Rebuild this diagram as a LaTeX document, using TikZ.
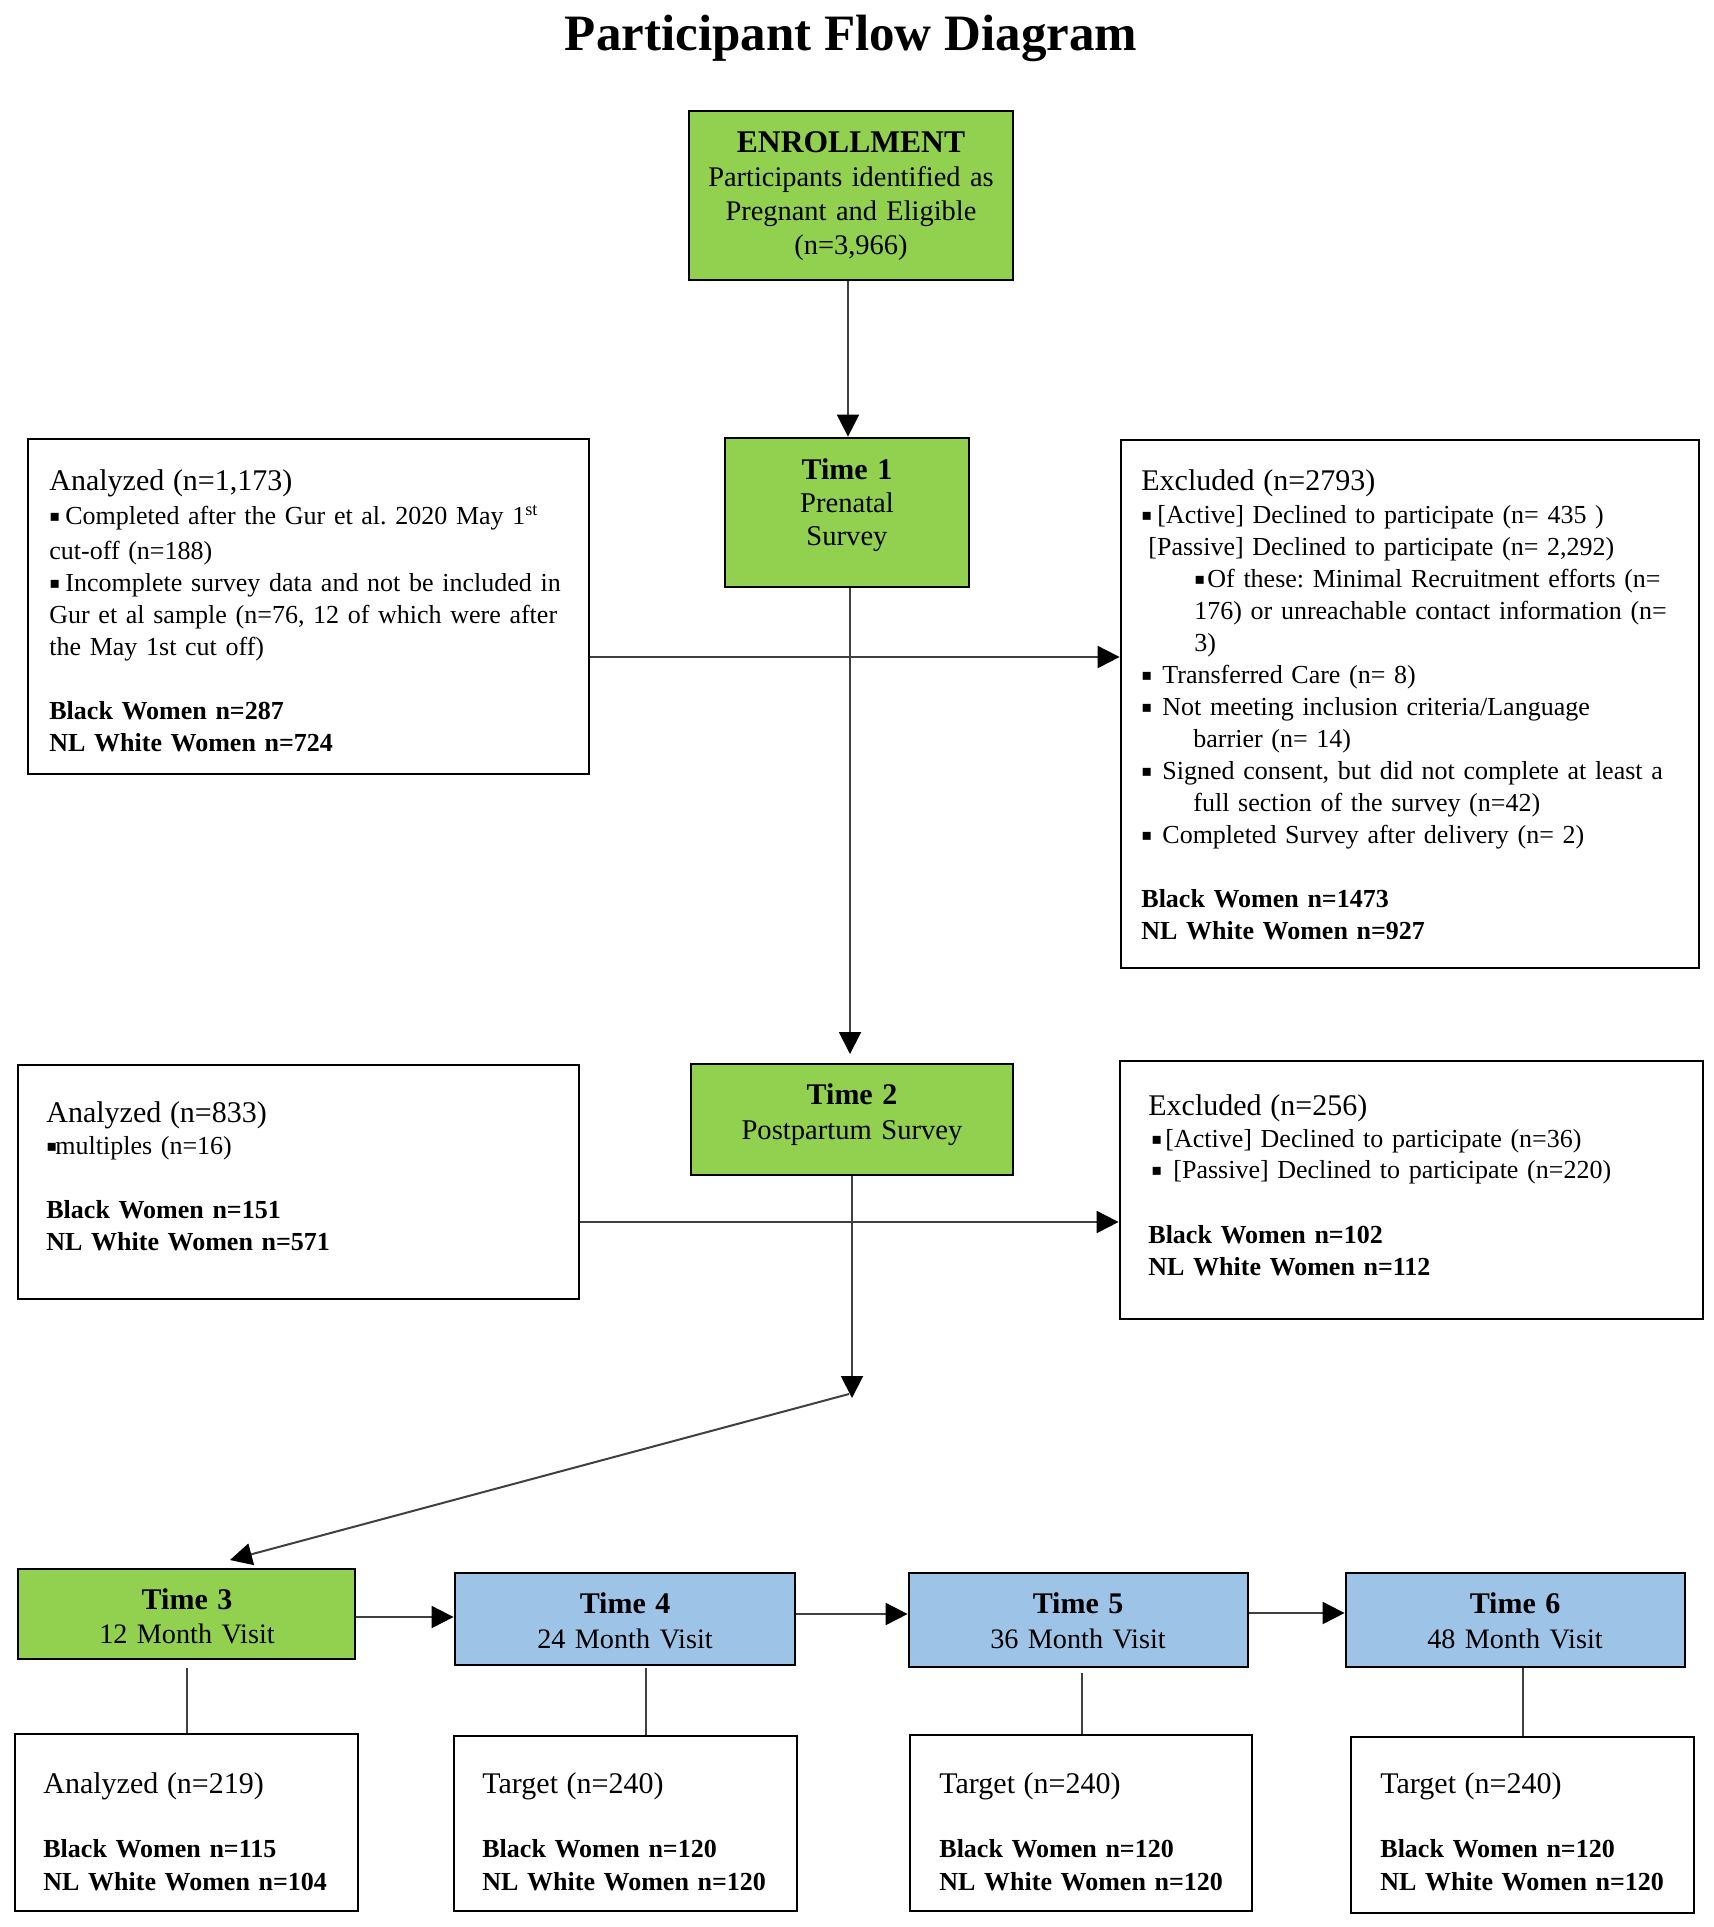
\documentclass[tikz,border=0pt]{standalone}
\usepackage{fontspec}
\setmainfont{Liberation Serif}
\newfontfamily\bulletfont{DejaVu Sans}
\usetikzlibrary{arrows.meta,fit}
\newcommand\sqbul[1]{\makebox[#1][l]{\raisebox{0.2ex}{\bulletfont\fontsize{8}{10}\selectfont ▪}}}
\definecolor{boxgreen}{RGB}{146,208,80}
\definecolor{boxblue}{RGB}{157,195,230}
\begin{document}
\frenchspacing
\begin{tikzpicture}[x=0.5pt,y=-0.5pt,
  framed/.style={draw=black, line width=1.4pt, inner sep=0pt},
  greenbox/.style={framed, fill=boxgreen},
  bluebox/.style={framed, fill=boxblue},
  whitebox/.style={framed, fill=white},
  conn/.style={draw=black!75, line width=1pt},
  arr/.style={conn, -{Triangle[length=11pt,width=11pt,color=black]}},
  ltxt/.style={anchor=base west, inner sep=0pt, align=left, text width=#1,
               font=\frenchspacing\fontsize{13}{16}\selectfont},
  ctxt/.style={anchor=base, inner sep=0pt, align=center, text width=#1}
]
\useasboundingbox (0,0) rectangle (1713,1927);
\fill[white] (0,0) rectangle (1713,1927);

% title
\node[anchor=base, inner sep=0pt, font=\fontsize{25.5}{30}\selectfont\bfseries] (title) at (851,50) {Participant Flow Diagram};

% boxes
\node[greenbox, fit={(689,111) (1013,280)}] (enr) {};
\node[greenbox, fit={(725,438) (969,587)}] (t1) {};
\node[whitebox, fit={(28,439) (589,774)}] (an1) {};
\node[whitebox, fit={(1121,440) (1699,968)}] (ex1) {};
\node[greenbox, fit={(691,1064) (1013,1175)}] (t2) {};
\node[whitebox, fit={(18,1065) (579,1299)}] (an2) {};
\node[whitebox, fit={(1120,1061) (1703,1319)}] (ex2) {};
\node[greenbox, fit={(18,1569) (355,1659)}] (t3) {};
\node[bluebox, fit={(455,1573) (795,1665)}] (t4) {};
\node[bluebox, fit={(909,1573) (1248,1667)}] (t5) {};
\node[bluebox, fit={(1346,1573) (1685,1667)}] (t6) {};
\node[whitebox, fit={(15,1734) (358,1911)}] (b3) {};
\node[whitebox, fit={(454,1736) (797,1911)}] (b4) {};
\node[whitebox, fit={(910,1735) (1252,1911)}] (b5) {};
\node[whitebox, fit={(1351,1737) (1694,1913)}] (b6) {};

% helper coordinates
\coordinate (v1) at (848,0);
\coordinate (j2) at (850,1054);
\coordinate (h1) at (850,657);
\coordinate (h2) at (850,1222);
\coordinate (j3) at (852,1398);
\coordinate (j3b) at (849,1394);
\coordinate (t3in) at (230,1560);
\coordinate (h3) at (0,1617);
\coordinate (h4) at (0,1614);
\coordinate (h5) at (0,1613);
\coordinate (v3) at (187,0);
\coordinate (v4) at (646,0);
\coordinate (v5) at (1082,0);
\coordinate (v6) at (1523,0);

% connectors
\draw[arr] (enr.south -| v1) -- (t1.north -| v1);
\draw[arr] (an1.east |- h1) -- (ex1.west |- h1);
\draw[arr] (t1.south -| j2) -- (j2);
\draw[arr] (an2.east |- h2) -- (ex2.west |- h2);
\draw[arr] (t2.south -| j3) -- (j3);
\draw[arr] (j3b) -- (t3in);
\draw[arr] (t3.east |- h3) -- (t4.west |- h3);
\draw[arr] (t4.east |- h4) -- (t5.west |- h4);
\draw[arr] (t5.east |- h5) -- (t6.west |- h5);
\draw[conn] ([yshift=-4pt]t3.south -| v3) -- (b3.north -| v3);
\draw[conn] ([yshift=-1pt]t4.south -| v4) -- (b4.north -| v4);
\draw[conn] ([yshift=-2.5pt]t5.south -| v5) -- (b5.north -| v5);
\draw[conn] (t6.south -| v6) -- (b6.north -| v6);

% texts in coloured boxes
\node[ctxt=160pt, font=\fontsize{14.2}{17}\selectfont] (enrT) at (851,152)
  {{\fontsize{15.8}{17}\selectfont\bfseries ENROLLMENT}\\ Participants identified as\\ Pregnant and Eligible\\ (n=3,966)};
\node[ctxt=120pt, font=\fontsize{14.3}{16.5}\selectfont] (t1T) at (847,479)
  {{\fontsize{15}{16.5}\selectfont\bfseries Time 1}\\ Prenatal\\ Survey};
\node[ctxt=160pt, font=\fontsize{14.3}{17.5}\selectfont] (t2T) at (852,1104)
  {{\fontsize{15}{17.5}\selectfont\bfseries Time 2}\\ Postpartum Survey};
\node[ctxt=165pt, font=\fontsize{14.1}{17}\selectfont] (t3T) at (187,1609)
  {{\fontsize{15}{17}\selectfont\bfseries Time 3}\\ 12 Month Visit};
\node[ctxt=165pt, font=\fontsize{14.1}{17.5}\selectfont] (t4T) at (625,1613)
  {{\fontsize{15}{17.5}\selectfont\bfseries Time 4}\\ 24 Month Visit};
\node[ctxt=165pt, font=\fontsize{14.1}{17.5}\selectfont] (t5T) at (1078,1613)
  {{\fontsize{15}{17.5}\selectfont\bfseries Time 5}\\ 36 Month Visit};
\node[ctxt=165pt, font=\fontsize{14.1}{17.5}\selectfont] (t6T) at (1515,1613)
  {{\fontsize{15}{17.5}\selectfont\bfseries Time 6}\\ 48 Month Visit};

% analyzed 1
\node[ltxt=270pt] (an1T) at (49,490)
  {{\fontsize{15}{16}\selectfont Analyzed (n=1,173)}\\[1pt]
   \sqbul{8pt}Completed after the Gur et al. 2020 May 1\textsuperscript{st}\\[1.5pt]
   cut-off (n=188)\\
   \sqbul{8pt}Incomplete survey data and not be included in\\
   Gur et al sample (n=76, 12 of which were after\\
   the May 1st cut off)\\[16pt]
   {\fontsize{13}{16}\selectfont\bfseries Black Women n=287}\\
   {\fontsize{13}{16}\selectfont\bfseries NL White Women n=724}};

% excluded 1
\node[ltxt=280pt] (ex1T) at (1141,490)
  {{\fontsize{15}{16}\selectfont Excluded (n=2793)}\\[0.5pt]
   \sqbul{8pt}[Active] Declined to participate (n= 435 )\\
   \hspace*{3.5pt}[Passive] Declined to participate (n= 2,292)\\
   \hspace*{26.5pt}\sqbul{6.5pt}Of these: Minimal Recruitment efforts (n=\\
   \hspace*{26.5pt}176) or unreachable contact information (n=\\
   \hspace*{26.5pt}3)\\
   \sqbul{10.5pt}Transferred Care (n= 8)\\
   \sqbul{10.5pt}Not meeting inclusion criteria/Language\\
   \hspace*{26pt}barrier (n= 14)\\
   \sqbul{10.5pt}Signed consent, but did not complete at least a\\
   \hspace*{26pt}full section of the survey (n=42)\\
   \sqbul{10.5pt}Completed Survey after delivery (n= 2)\\[16pt]
   {\fontsize{13}{16}\selectfont\bfseries Black Women n=1473}\\
   {\fontsize{13}{16}\selectfont\bfseries NL White Women n=927}};

% analyzed 2
\node[ltxt=270pt] (an2T) at (46,1122)
  {{\fontsize{15}{16}\selectfont Analyzed (n=833)}\\
   \sqbul{4.5pt}multiples (n=16)\\[16pt]
   {\fontsize{13}{16}\selectfont\bfseries Black Women n=151}\\
   {\fontsize{13}{16}\selectfont\bfseries NL White Women n=571}};

% excluded 2
\node[ltxt=280pt] (ex2T) at (1148,1115)
  {{\fontsize{15}{16}\selectfont Excluded (n=256)}\\
   \hspace*{1.5pt}\sqbul{7pt}[Active] Declined to participate (n=36)\\[-0.5pt]
   \hspace*{1.5pt}\sqbul{11pt}[Passive] Declined to participate (n=220)\\[16.5pt]
   {\fontsize{13}{16}\selectfont\bfseries Black Women n=102}\\
   {\fontsize{13}{16}\selectfont\bfseries NL White Women n=112}};

% bottom boxes
\node[ltxt=160pt, font=\fontsize{13}{16.5}\selectfont] (b3T) at (43,1793)
  {{\fontsize{15}{16.5}\selectfont Analyzed (n=219)}\\[15.5pt]
   \textbf{Black Women n=115}\\ \textbf{NL White Women n=104}};
\node[ltxt=160pt, font=\fontsize{13}{16.5}\selectfont] (b4T) at (482,1793)
  {{\fontsize{15}{16.5}\selectfont Target (n=240)}\\[15.5pt]
   \textbf{Black Women n=120}\\ \textbf{NL White Women n=120}};
\node[ltxt=160pt, font=\fontsize{13}{16.5}\selectfont] (b5T) at (939,1793)
  {{\fontsize{15}{16.5}\selectfont Target (n=240)}\\[15.5pt]
   \textbf{Black Women n=120}\\ \textbf{NL White Women n=120}};
\node[ltxt=160pt, font=\fontsize{13}{16.5}\selectfont] (b6T) at (1380,1793)
  {{\fontsize{15}{16.5}\selectfont Target (n=240)}\\[15.5pt]
   \textbf{Black Women n=120}\\ \textbf{NL White Women n=120}};
\end{tikzpicture}
\end{document}
